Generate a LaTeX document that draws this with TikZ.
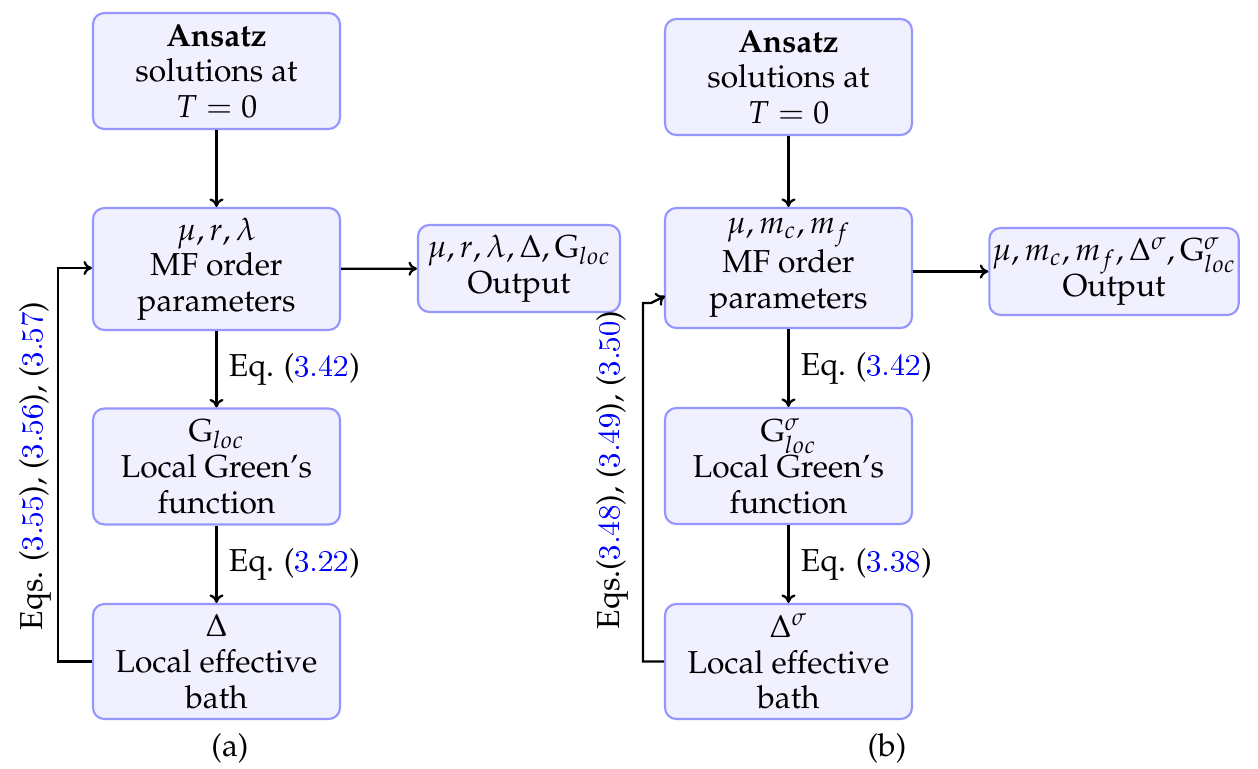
\documentclass[tikz,border=0pt]{standalone}
\usepackage[T1]{fontenc}
\usepackage{mathpazo}
\usepackage{xcolor}
\usetikzlibrary{arrows.meta}
\definecolor{boxfill}{RGB}{240,240,255}
\definecolor{boxline}{RGB}{150,150,255}
\newcommand{\eqn}[1]{\textcolor{blue}{\fontfamily{lmr}\selectfont #1}}
\begin{document}
\begin{tikzpicture}[x=0.3529pt,y=-0.3529pt,
  font=\fontsize{11.2}{12.6}\selectfont,
  blk/.style={draw=boxline, fill=boxfill, line width=0.75pt, rounded corners=4pt,
    minimum width=247*0.3529pt, minimum height=116*0.3529pt, align=center, inner sep=1pt},
  outblk/.style={blk, minimum height=87*0.3529pt},
  conn/.style={line width=0.8pt, -{To[length=3pt,width=5pt]}},
  lab/.style={inner sep=1pt}]
\useasboundingbox (0,0) rectangle (1258,769);
% left diagram
\node[blk] (a1) at (216.5,71) {\textbf{Ansatz}\\solutions at\\$T=0$};
\node[blk, minimum height=122*0.3529pt] (a2) at (216.5,269) {$\mu,r,\lambda$\\MF order\\parameters};
\node[blk] (a3) at (216.5,466.5) {$\mathrm{G}_{loc}$\\Local Green's\\function};
\node[blk, minimum height=115*0.3529pt] (a4) at (216.5,661.5) {$\Delta$\\Local effective\\bath};
\node[outblk, minimum width=202*0.3529pt] (ao) at (519,268.5) {$\mu,r,\lambda,\Delta,\mathrm{G}_{loc}$\\Output};
\draw[conn] (a1) -- (a2);
\draw[conn] (a2) -- node[lab, right=3pt] {Eq. (\eqn{3.42})} (a3);
\draw[conn] (a3) -- node[lab, right=3pt] {Eq. (\eqn{3.22})} (a4);
\draw[conn] (a2) -- (ao);
\coordinate (la) at (58,268);
\draw[conn] (a4.west) -| (la) -- (la -| a2.west);
\node[lab, rotate=90] (ltxt) at (35,466) {Eqs. (\eqn{3.55}), (\eqn{3.56}), (\eqn{3.57})};
\node[lab] (capa) at (230,748) {(a)};
% right diagram
\node[blk] (b1) at (788.5,77) {\textbf{Ansatz}\\solutions at\\$T=0$};
\node[blk, minimum height=120*0.3529pt] (b2) at (788.5,268) {$\mu,m_c,m_f$\\MF order\\parameters};
\node[blk] (b3) at (788.5,466) {$\mathrm{G}^{\sigma}_{loc}$\\Local Green's\\function};
\node[blk, minimum height=115*0.3529pt] (b4) at (788.5,661.5) {$\Delta^{\sigma}$\\Local effective\\bath};
\node[outblk, minimum width=248*0.3529pt] (bo) at (1114,271.5) {$\mu,m_c,m_f,\Delta^{\sigma},\mathrm{G}^{\sigma}_{loc}$\\Output};
\draw[conn] (b1) -- (b2);
\draw[conn] (b2) -- node[lab, right=3pt] {Eq. (\eqn{3.42})} (b3);
\draw[conn] (b3) -- node[lab, right=3pt] {Eq. (\eqn{3.38})} (b4);
\draw[conn] (b2.east |- bo.west) -- (bo.west);
\coordinate (lb) at (643,303);
\coordinate (lbt) at (665,296);
\draw[conn] (b4.west) -| (lb) -- ++(8,0) -- (lbt);
\node[lab, rotate=90] (rtxt) at (612,470) {Eqs.(\eqn{3.48}), (\eqn{3.49}), (\eqn{3.50})};
\node[lab] (capb) at (887,748) {(b)};
\end{tikzpicture}
\end{document}
